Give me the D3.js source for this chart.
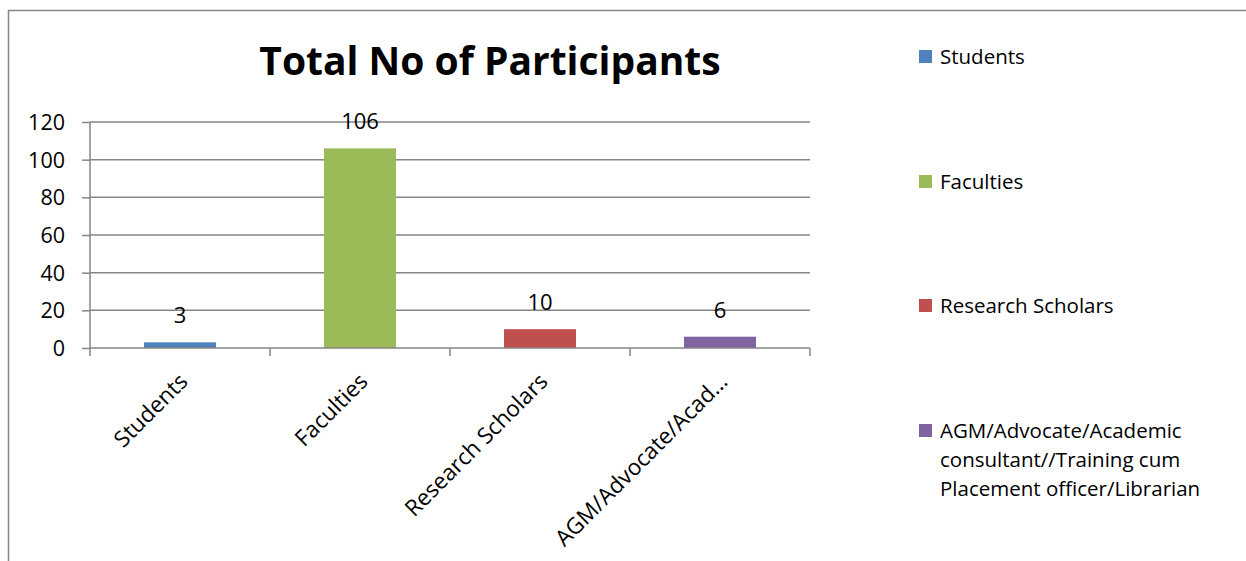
<!DOCTYPE html>
<html><head><meta charset="utf-8">
<script src="https://cdn.jsdelivr.net/npm/d3@7"></script>
<style>body{margin:0;background:#fff}svg{display:block}text{font-family:"Open Sans",sans-serif;fill:#000}</style>
</head><body>
<svg id="c" width="1246" height="561"></svg>
<script>
const categories = ["Students", "Faculties", "Research Scholars", "AGM/Advocate/Academic consultant//Training cum Placement officer/Librarian"];
const tickLabels = ["Students", "Faculties", "Research Scholars", "AGM/Advocate/Acad…"];
const values = [3, 106, 10, 6];
const legendLines = [["Students"], ["Faculties"], ["Research Scholars"], ["AGM/Advocate/Academic", "consultant//Training cum", "Placement officer/Librarian"]];
const yTicks = [0, 20, 40, 60, 80, 100, 120];
const colors = ["#4F81BD", "#9BBB59", "#C0504D", "#8064A2"];
const title = "Total No of Participants";

const svg = d3.select("#c");
const grey = "#868686";
// outer border
svg.append("rect").attr("x", 8.5).attr("y", 10.5).attr("width", 1300).attr("height", 600)
  .attr("fill", "none").attr("stroke", grey).attr("stroke-width", 1.5);

const x = d3.scaleBand().domain(categories).range([90, 810]).paddingInner(0.6).paddingOuter(0.3);
const y = d3.scaleLinear().domain([0, 120]).range([348, 122]);

// gridlines
svg.append("g").selectAll("line").data(yTicks.slice(1)).join("line")
  .attr("x1", 90).attr("x2", 810).attr("y1", d => y(d)).attr("y2", d => y(d))
  .attr("stroke", grey).attr("stroke-width", 1.5);

// bars
svg.append("g").selectAll("rect").data(values).join("rect")
  .attr("x", (d, i) => x(categories[i])).attr("width", x.bandwidth())
  .attr("y", d => y(d)).attr("height", d => y(0) - y(d))
  .attr("fill", (d, i) => colors[i]);

// y axis
const yAxis = d3.axisLeft(y).tickValues(yTicks).tickSize(8).tickPadding(10);
const gy = svg.append("g").attr("transform", "translate(90,0)").call(yAxis);
gy.select(".domain").attr("stroke", grey).attr("stroke-width", 1.5).attr("d", "M0,122V348");
gy.selectAll(".tick line").attr("stroke", grey).attr("stroke-width", 1.5);
gy.selectAll(".tick text").style("font-size", "21.5px").attr("dy", "0.35em").attr("x", -25);

// x axis
const boundaries = d3.range(categories.length + 1).map(i => 90 + i * 180);
svg.append("line").attr("x1", 90).attr("x2", 810).attr("y1", 348).attr("y2", 348).attr("stroke", grey).attr("stroke-width", 1.5);
svg.append("g").selectAll("line").data(boundaries).join("line")
  .attr("x1", d => d).attr("x2", d => d).attr("y1", 348).attr("y2", 356)
  .attr("stroke", grey).attr("stroke-width", 1.5);

svg.append("g").selectAll("text").data(tickLabels).join("text")
  .attr("transform", (d, i) => `translate(${x(categories[i]) + x.bandwidth() / 2 + 9},${383}) rotate(-45)`)
  .attr("text-anchor", "end").style("font-size", "22.5px").text(d => d);

// data labels
svg.append("g").selectAll("text").data(values).join("text")
  .attr("x", (d, i) => x(categories[i]) + x.bandwidth() / 2).attr("y", d => y(d) - 19)
  .attr("text-anchor", "middle").style("font-size", "22px").text(d => d);

// title
svg.append("text").attr("x", 490).attr("y", 75).attr("text-anchor", "middle")
  .style("font-size", "39px").style("font-weight", "bold").text(title);

// legend
const legendY = [57, 182, 306, 431];
const lg = svg.append("g").selectAll("g").data(legendLines).join("g")
  .attr("transform", (d, i) => `translate(919,${legendY[i]})`);
lg.append("rect").attr("x", 0).attr("y", -7).attr("width", 13).attr("height", 13).attr("fill", (d, i) => colors[i]);
lg.each(function(lines) {
  const t = d3.select(this).append("text").attr("x", 21).attr("y", 0).style("font-size", "20.5px");
  lines.forEach((l, k) => t.append("tspan").attr("x", 21).attr("dy", k === 0 ? "0.35em" : "29px").text(l));
});
</script>
</body></html>
